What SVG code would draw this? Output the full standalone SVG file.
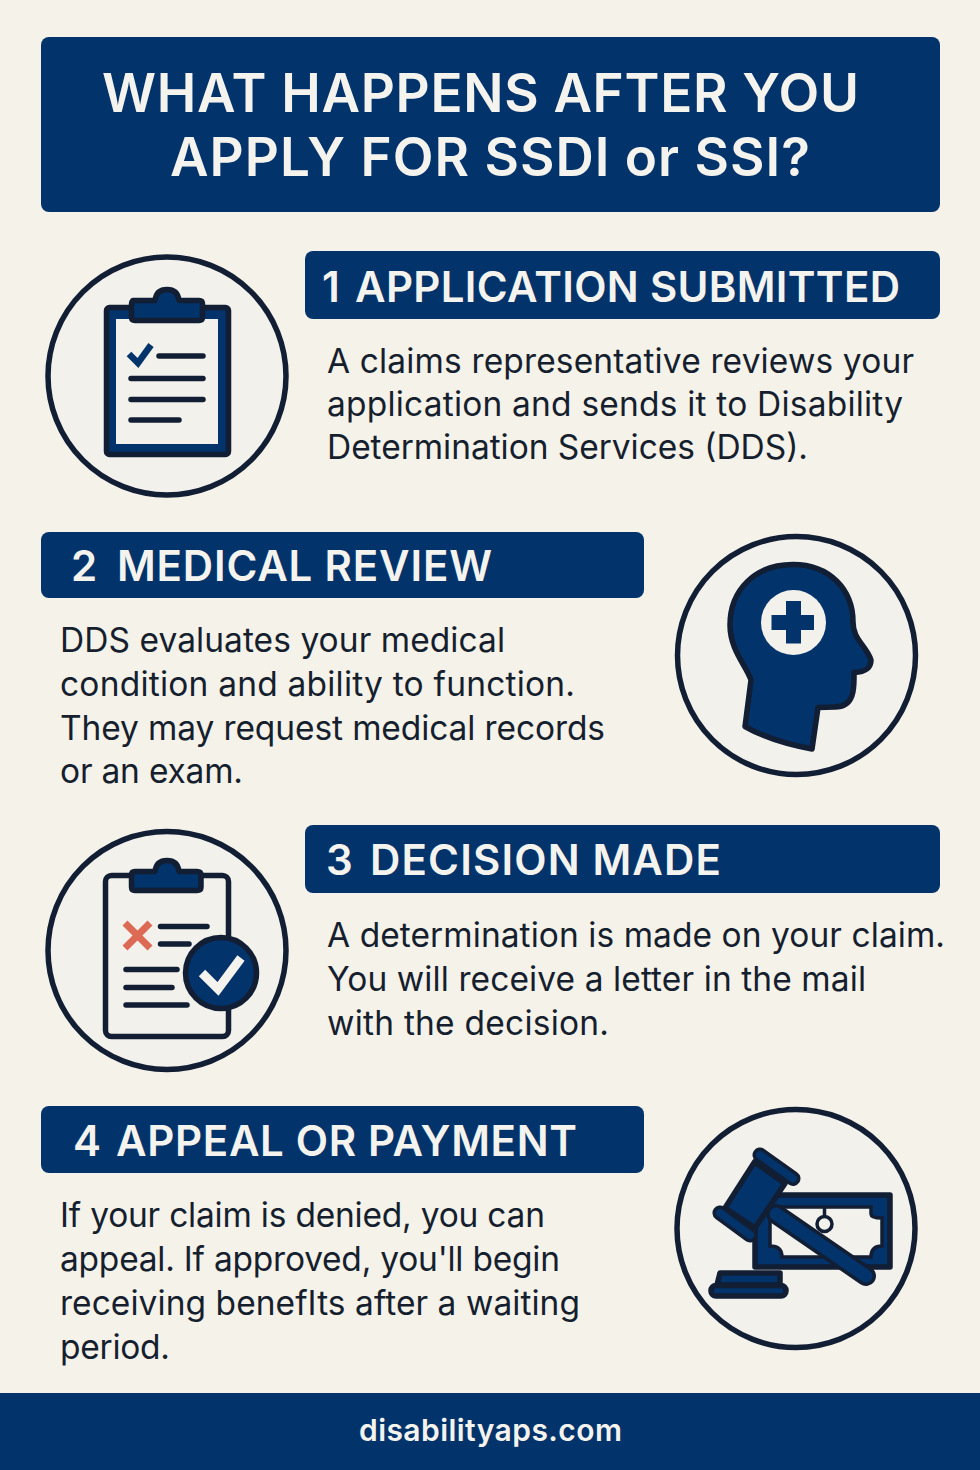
<svg xmlns="http://www.w3.org/2000/svg" width="980" height="1470" viewBox="0 0 980 1470">
<style>
text{font-family:Inter,"Noto Sans","Liberation Sans",sans-serif}
.navy{fill:#02336b}
.ring{fill:#f2f1ec;stroke:#121e33;stroke-width:5.500}
.ink{fill:none;stroke:#121e33;stroke-width:5.500;stroke-linecap:round;stroke-linejoin:round}
.fillink{fill:#02336b;stroke:#121e33;stroke-width:5.500;stroke-linejoin:round}
.title{font-size:53px;font-weight:600;fill:#f5f3ee}
.head{font-size:42px;font-weight:600;fill:#f5f3ee}
.body{font-size:33.500px;font-weight:400;fill:#161f2e}
.foot{font-size:30px;font-weight:600;fill:#f5f3ee}
</style>
<rect width="980" height="1470" fill="#f5f2ea"/>
<g id="title"><rect class="navy" x="41" y="37" width="899" height="175" rx="8"/>
<text class="title" x="102" y="112" textLength="757">WHAT HAPPENS AFTER YOU</text>
<text class="title" x="170" y="176" textLength="640">APPLY FOR SSDI or SSI?</text></g>

<g id="step1"><rect class="navy" x="305" y="251" width="635" height="68" rx="8"/>
<text class="head" x="322" y="301.500" textLength="19">1</text>
<text class="head" x="355" y="301.500" textLength="545">APPLICATION SUBMITTED</text>
<text class="body" x="327" y="373" textLength="587">A claims representative reviews your</text>
<text class="body" x="327" y="416" textLength="576">application and sends it to Disability</text>
<text class="body" x="327" y="459" textLength="481">Determination Services (DDS).</text>
<circle class="ring" cx="167" cy="376" r="119"/>
<rect x="106.500" y="307.500" width="122" height="147" rx="3" class="fillink"/>
<rect x="116" y="319" width="102" height="125" fill="#f2f1ec"/>
<path class="fillink" d="M133 300.500H155C156 292 161 289.500 167 289.500S178 292 179 300.500H199Q202.500 300.500 202.500 304V317Q202.500 320.500 199 320.500H135Q131.500 320.500 131.500 317V304Q131.500 300.500 135 300.500Z"/>
<path d="M129 354L138 363L151 345" fill="none" stroke="#02336b" stroke-width="6.500"/>
<path class="ink" d="M159 356H203M131 378.500H203M131 399.500H203M131 420H179"/>
</g>

<g id="step2"><rect class="navy" x="41" y="532" width="603" height="66" rx="8"/>
<text class="head" x="71" y="580.500" textLength="26">2</text>
<text class="head" x="117" y="580.500" textLength="375">MEDICAL REVIEW</text>
<text class="body" x="60" y="652" textLength="445">DDS evaluates your medical</text>
<text class="body" x="60" y="696" textLength="515">condition and ability to function.</text>
<text class="body" x="60" y="740" textLength="545">They may request medical records</text>
<text class="body" x="60" y="783" textLength="183">or an exam.</text>
<circle class="ring" cx="796.500" cy="655.500" r="119"/>
<path class="fillink" d="M745 726.500L751 680C746 665 730 650 730 625C730 590 755 564.500 793 564.500C830 564.500 853 590 853 622C853 640 866 645 871 660C871 670 863 672 854 672.500C854 685 856 707 835 707L818 707.500L812 749C790 745 765 738 745 726.500Z"/>
<circle cx="793.500" cy="622.500" r="32.500" fill="#f2f1ec"/>
<path class="navy" d="M786 601H801V615H814V630H801V643.500H786V630H771.500V615H786Z"/>
</g>

<g id="step3"><rect class="navy" x="305" y="825" width="635" height="68" rx="8"/>
<text class="head" x="326" y="874.500" textLength="25">3</text>
<text class="head" x="370" y="874.500" textLength="351">DECISION MADE</text>
<text class="body" x="327" y="947" textLength="618">A determination is made on your claim.</text>
<text class="body" x="327" y="991" textLength="539">You will receive a letter in the mail</text>
<text class="body" x="327" y="1035" textLength="282">with the decision.</text>
<circle class="ring" cx="167" cy="950.500" r="119"/>
<rect x="105.500" y="875.500" width="123" height="161" rx="6" fill="#f2f1ec" stroke="#121e33" stroke-width="5.500"/>
<path class="fillink" d="M135 871.500H155C156 863 161 860.500 167 860.500S178 863 179 871.500H197Q201 871.500 201 875V887Q201 890.500 197 890.500H135Q131.500 890.500 131.500 887V875Q131.500 871.500 135 871.500Z"/>
<path d="M125 923L150 948M150 923L125 948" fill="none" stroke="#dd6a55" stroke-width="7"/>
<path class="ink" d="M160.500 926.500H207M160.500 944H189M126 969.500H177M126 987.500H172M126 1005H187"/>
<circle class="fillink" cx="221" cy="973" r="35.500"/>
<path d="M202 973L218 989L241 958" fill="none" stroke="#f5f3ee" stroke-width="9"/>
</g>

<g id="step4"><rect class="navy" x="41" y="1106" width="603" height="67" rx="8"/>
<text class="head" x="73" y="1155.500" textLength="27">4</text>
<text class="head" x="116" y="1155.500" textLength="461">APPEAL OR PAYMENT</text>
<text class="body" x="60" y="1227" textLength="485">If your claim is denied, you can</text>
<text class="body" x="60" y="1271" textLength="500">appeal. If approved, you'll begin</text>
<text class="body" x="60" y="1315" textLength="520">receiving benefIts after a waiting</text>
<text class="body" x="60" y="1359" textLength="110">period.</text>
<circle class="ring" cx="796" cy="1228.500" r="119"/>
<rect class="fillink" x="755" y="1195" width="135" height="72" stroke-width="4"/>
<path d="M770 1207H871V1214Q871 1218 882 1218V1246Q871 1246 871 1257H782Q782 1246 770 1246V1221Z" fill="#f2f1ec" stroke="#121e33" stroke-width="3.500"/>
<path d="M824.500 1207V1217" stroke="#121e33" stroke-width="3.500"/>
<circle cx="824.500" cy="1224" r="7.500" fill="#f2f1ec" stroke="#121e33" stroke-width="3.500"/>
<path d="M776 1214L866 1276" stroke="#121e33" stroke-width="20" stroke-linecap="round"/>
<path d="M776 1214L866 1276" stroke="#02336b" stroke-width="13" stroke-linecap="round"/>
<path class="fillink" d="M754.500 1162L785 1183.500L755 1228L725 1208Z" stroke-width="4"/>
<path d="M760 1155L793 1178.500M720 1213L750 1235" stroke="#121e33" stroke-width="15" stroke-linecap="round"/>
<path d="M760 1155L793 1178.500M720 1213L750 1235" stroke="#02336b" stroke-width="8" stroke-linecap="round"/>
<path class="fillink" d="M720 1273H780V1285H717Z" stroke-width="4"/>
<rect class="fillink" x="711" y="1285.500" width="75" height="10.500" rx="5" stroke-width="4"/>
</g>

<g id="footer"><rect class="navy" y="1393" width="980" height="77"/>
<text class="foot" x="359" y="1441" textLength="263">disabilityaps.com</text></g>
</svg>
